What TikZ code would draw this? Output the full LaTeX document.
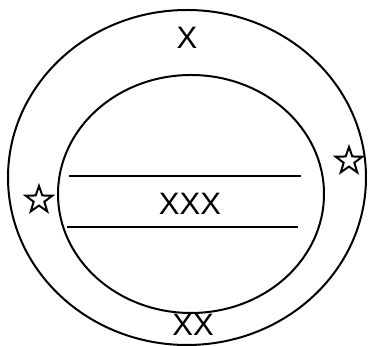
\documentclass[tikz,border=0pt]{standalone}
\usepackage{fontspec}
\setmainfont{Liberation Sans}
\usetikzlibrary{shapes.geometric}
\tikzset{
  every picture/.style={line width=1pt},
  ring/.style={draw=black},
  band/.style={draw=black},
  label/.style={font=\fontsize{15.5}{18}\selectfont, inner sep=0pt},
  starmark/.style={star, star points=5, star point ratio=2.5, draw=black, fill=white, minimum size=14pt, inner sep=0pt, line width=1pt},
}
\begin{document}
\begin{tikzpicture}[x=0.5pt, y=-0.5pt]
  \useasboundingbox (0,0) rectangle (370,346);
  % rings
  \draw[ring] (187,177.5) ellipse [x radius=179, y radius=167.5];
  \draw[ring] (191,194) ellipse [x radius=133, y radius=119];
  % band
  \draw[band] (69,176) -- (301,176);
  \draw[band] (67,227) -- (298,227);
  % labels
  \node[label] (top) at (187,38) {X};
  \node[label] (mid) at (190,204) {XXX};
  \node[label] (bot) at (193,325) {XX};
  % stars
  \node[starmark] (lstar) at (39,200) {};
  \node[starmark] (rstar) at (349,161) {};
\end{tikzpicture}
\end{document}
